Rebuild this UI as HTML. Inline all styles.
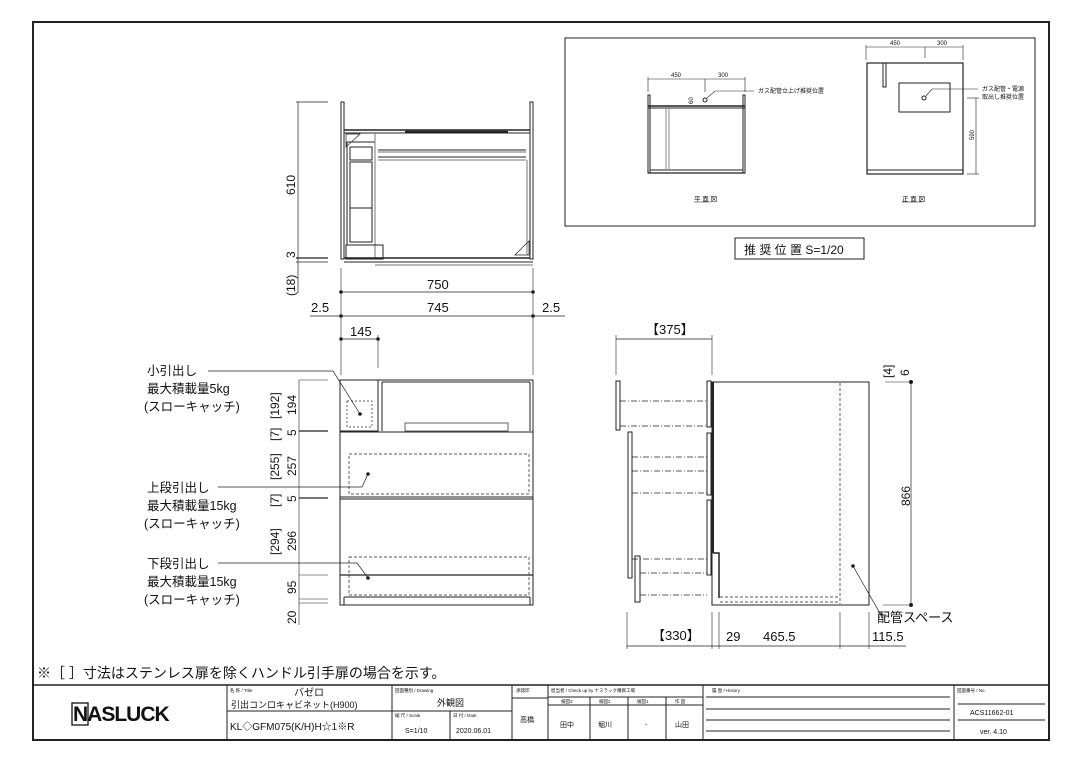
<!DOCTYPE html>
<html><head><meta charset="utf-8"><style>
html,body{margin:0;padding:0;background:#fff}
svg{display:block}
text{font-family:"Liberation Sans","Noto Sans CJK JP",sans-serif;fill:#111}
</style></head><body>
<svg width="1080" height="764" viewBox="0 0 1080 764" xmlns="http://www.w3.org/2000/svg">
<g fill="none" stroke="#222" stroke-width="1">
<!-- frame -->
<rect x="33" y="22" width="1016" height="718" stroke-width="2"/>
<!-- title block -->
<line x1="33" y1="685" x2="1049" y2="685" stroke-width="1.5"/>
<line x1="227" y1="685" x2="227" y2="740"/>
<line x1="392" y1="685" x2="392" y2="740"/>
<line x1="512" y1="685" x2="512" y2="740"/>
<line x1="548" y1="685" x2="548" y2="740"/>
<line x1="703" y1="685" x2="703" y2="740"/>
<line x1="954" y1="685" x2="954" y2="740"/>
<line x1="227" y1="711" x2="392" y2="711"/>
<line x1="392" y1="711" x2="512" y2="711"/>
<line x1="450" y1="711" x2="450" y2="740"/>
<line x1="512" y1="698" x2="548" y2="698"/>
<line x1="548" y1="697" x2="703" y2="697"/>
<line x1="548" y1="705" x2="703" y2="705"/>
<line x1="590" y1="697" x2="590" y2="740"/>
<line x1="628" y1="697" x2="628" y2="740"/>
<line x1="666" y1="697" x2="666" y2="740"/>
<line x1="706" y1="697" x2="950" y2="697"/>
<line x1="706" y1="709" x2="950" y2="709"/>
<line x1="706" y1="720" x2="950" y2="720"/>
<line x1="706" y1="731" x2="950" y2="731"/>
<line x1="958" y1="704" x2="1045" y2="704"/>
<line x1="958" y1="720" x2="1045" y2="720"/>

<!-- inset box -->
<rect x="565" y="38" width="470" height="188"/>
<rect x="735" y="238" width="129" height="21"/>
<!-- plan view -->
<rect x="648" y="95" width="2" height="78"/>
<rect x="743" y="95" width="2" height="78"/>
<line x1="648" y1="106" x2="745" y2="106" stroke-width="1.5"/>
<line x1="648" y1="108" x2="745" y2="108"/>
<line x1="650" y1="170" x2="743" y2="170"/>
<line x1="648" y1="173" x2="745" y2="173" stroke-width="1.2"/>
<line x1="666" y1="108" x2="666" y2="170" stroke="#888"/>
<line x1="669" y1="108" x2="669" y2="170" stroke="#888"/>
<line x1="648" y1="79" x2="745" y2="79" stroke-width="0.6"/>
<line x1="648" y1="77" x2="648" y2="92" stroke-width="0.6"/>
<line x1="745" y1="77" x2="745" y2="92" stroke-width="0.6"/>
<line x1="705" y1="79" x2="705" y2="92" stroke-width="0.6"/>
<circle cx="705" cy="100" r="2"/>
<polyline points="707,98 715,91 754,91" stroke-width="0.6"/>
<line x1="694" y1="202" x2="711" y2="202" stroke-width="0.6"/>
<!-- front view inset -->
<rect x="867" y="63" width="96" height="111" stroke-width="1.2"/>
<line x1="867" y1="170" x2="963" y2="170"/>
<rect x="883" y="63" width="3" height="24"/>
<rect x="899" y="83" width="51" height="29"/>
<circle cx="924" cy="98" r="2"/>
<polyline points="926,96 932,89 978,89" stroke-width="0.6"/>
<line x1="866" y1="47" x2="963" y2="47" stroke-width="0.6"/>
<line x1="866" y1="45" x2="866" y2="60" stroke-width="0.6"/>
<line x1="963" y1="45" x2="963" y2="60" stroke-width="0.6"/>
<line x1="925" y1="47" x2="925" y2="58" stroke-width="0.6"/>
<line x1="967" y1="98" x2="979" y2="98" stroke-width="0.6"/>
<line x1="967" y1="174" x2="979" y2="174" stroke-width="0.6"/>
<line x1="976" y1="98" x2="976" y2="174" stroke-width="0.6"/>
<line x1="902" y1="202" x2="922" y2="202" stroke-width="0.6"/>

<!-- top view -->
<line x1="298" y1="102" x2="298" y2="293" stroke-width="0.7"/>
<line x1="296" y1="102" x2="328" y2="102" stroke-width="0.7"/>
<line x1="296" y1="258" x2="328" y2="258" stroke-width="1.2"/>
<line x1="296" y1="262" x2="328" y2="262" stroke-width="0.7"/>
<rect x="341" y="102" width="3" height="157"/>
<rect x="530" y="102" width="3" height="157"/>
<line x1="344" y1="130" x2="530" y2="130" stroke-width="1.5"/>
<line x1="344" y1="133" x2="530" y2="133"/>
<line x1="405" y1="132" x2="508" y2="132" stroke-width="2.5"/>
<rect x="347" y="142" width="28" height="103"/>
<rect x="350" y="147" width="22" height="13"/>
<rect x="350" y="162" width="22" height="80"/>
<line x1="350" y1="208" x2="372" y2="208"/>
<line x1="375" y1="133" x2="375" y2="258" stroke="#777"/>
<line x1="378" y1="150" x2="526" y2="150"/>
<line x1="378" y1="152" x2="526" y2="152" stroke="#777"/>
<line x1="378" y1="157" x2="526" y2="157"/>
<line x1="378" y1="160" x2="526" y2="160" stroke="#777"/>
<line x1="527" y1="160" x2="527" y2="255" stroke="#777"/>
<polygon points="346,134 360,134 346,147" stroke-width="0.7"/>
<polygon points="515,255 529,255 529,241" stroke-width="0.7"/>
<line x1="344" y1="258" x2="530" y2="258" stroke-width="1.5"/>
<rect x="346" y="245" width="37" height="14"/>
<line x1="344" y1="262" x2="533" y2="262"/>
<line x1="375" y1="265" x2="533" y2="265" stroke="#777"/>

<!-- dims top -->
<line x1="341" y1="268" x2="341" y2="375" stroke-width="0.6"/>
<line x1="533" y1="268" x2="533" y2="375" stroke-width="0.6"/>
<line x1="341" y1="292" x2="533" y2="292" stroke-width="0.7"/>
<line x1="310" y1="316" x2="565" y2="316" stroke-width="0.7"/>
<line x1="341" y1="339" x2="378" y2="339" stroke-width="0.7"/>
<line x1="378" y1="335" x2="378" y2="368" stroke-width="0.6"/>
<circle cx="341" cy="292" r="1.3" fill="#111"/><circle cx="533" cy="292" r="1.3" fill="#111"/>
<circle cx="341" cy="316" r="1.3" fill="#111"/><circle cx="533" cy="316" r="1.3" fill="#111"/>
<circle cx="341" cy="339" r="1.3" fill="#111"/><circle cx="378" cy="339" r="1.3" fill="#111"/>

<!-- front view -->
<rect x="340" y="380" width="193" height="225"/>
<rect x="340" y="380" width="38" height="51"/>
<line x1="382" y1="382" x2="382" y2="431"/>
<line x1="530" y1="382" x2="530" y2="431"/>
<line x1="382" y1="382" x2="530" y2="382"/>
<rect x="405" y="423" width="103" height="8" stroke-width="0.7"/>
<rect x="347" y="401" width="25" height="26" stroke-dasharray="2,2" stroke-width="0.7"/>
<rect x="340" y="432" width="193" height="65"/>
<rect x="349" y="454" width="180" height="40" stroke-dasharray="3,2" stroke-width="0.7"/>
<rect x="340" y="499" width="193" height="76"/>
<rect x="349" y="557" width="180" height="38" stroke-dasharray="3,2" stroke-width="0.7"/>
<line x1="340" y1="575" x2="533" y2="575" stroke-width="1.3"/>
<line x1="344" y1="597" x2="530" y2="597"/>
<line x1="344" y1="597" x2="344" y2="605"/>
<line x1="530" y1="597" x2="530" y2="605"/>
<!-- front dims -->
<line x1="299" y1="380" x2="299" y2="625" stroke-width="0.6"/>
<line x1="299" y1="380" x2="328" y2="380" stroke-width="0.6"/>
<line x1="299" y1="431" x2="328" y2="431" stroke-width="1.3"/>
<line x1="299" y1="498" x2="328" y2="498" stroke-width="1.3"/>
<line x1="299" y1="575" x2="328" y2="575" stroke-width="0.6"/>
<line x1="299" y1="599" x2="328" y2="599" stroke-width="0.6"/>
<line x1="299" y1="603" x2="328" y2="603" stroke-width="0.6"/>
<!-- leaders -->
<polyline points="208,371 333,371 360,414" stroke-width="0.7"/>
<polyline points="218,487 362,487 368,474" stroke-width="0.7"/>
<polyline points="218,563 357,563 368,578" stroke-width="0.7"/>
<circle cx="360" cy="414" r="1.3" fill="#111"/>
<circle cx="368" cy="474" r="1.3" fill="#111"/>
<circle cx="368" cy="578" r="1.3" fill="#111"/>

<!-- side view -->
<line x1="616" y1="339" x2="712" y2="339" stroke-width="0.7"/>
<line x1="616" y1="335" x2="616" y2="375" stroke-width="0.6"/>
<line x1="712" y1="335" x2="712" y2="375" stroke-width="0.6"/>
<rect x="712" y="382" width="157" height="223"/>
<line x1="713" y1="382" x2="713" y2="553" stroke-width="2"/>
<rect x="707" y="381" width="4" height="46"/>
<rect x="707" y="433" width="4" height="62"/>
<rect x="707" y="500" width="4" height="75"/>
<polyline points="713,553 719,553 719,598" stroke-width="1.5"/>
<rect x="616" y="381" width="4" height="49"/>
<line x1="620" y1="401" x2="707" y2="401" stroke-dasharray="6,2,1,2" stroke-width="0.7"/>
<line x1="620" y1="426" x2="707" y2="426" stroke-dasharray="6,2,1,2" stroke-width="0.7"/>
<rect x="628" y="432" width="4" height="146"/>
<line x1="632" y1="457" x2="707" y2="457" stroke-dasharray="6,2,1,2" stroke-width="0.7"/>
<line x1="632" y1="471" x2="707" y2="471" stroke-dasharray="6,2,1,2" stroke-width="0.7"/>
<line x1="632" y1="493" x2="707" y2="493" stroke-dasharray="6,2,1,2" stroke-width="0.7"/>
<line x1="632" y1="559" x2="707" y2="559" stroke-dasharray="6,2,1,2" stroke-width="0.7"/>
<line x1="640" y1="573" x2="707" y2="573" stroke-dasharray="6,2,1,2" stroke-width="0.7"/>
<line x1="640" y1="595" x2="707" y2="595" stroke-dasharray="6,2,1,2" stroke-width="0.7"/>
<rect x="635" y="556" width="5" height="46"/>
<line x1="840" y1="383" x2="840" y2="604" stroke-dasharray="3,2" stroke-width="0.7"/>
<line x1="720" y1="597" x2="840" y2="597" stroke-dasharray="3,2" stroke-width="0.7"/>
<line x1="720" y1="602" x2="840" y2="602" stroke-dasharray="3,2" stroke-width="0.7"/>
<line x1="911" y1="382" x2="911" y2="605" stroke-width="0.7"/>
<line x1="885" y1="382" x2="913" y2="382" stroke-width="0.6"/>
<line x1="883" y1="605" x2="913" y2="605" stroke-width="0.6"/>
<circle cx="911" cy="382" r="1.5" fill="#111"/><circle cx="911" cy="605" r="1.5" fill="#111"/>
<polyline points="853,566 881,615 886,615" stroke-width="0.7"/>
<circle cx="853" cy="566" r="1.3" fill="#111"/>
<line x1="627" y1="646" x2="906" y2="646" stroke-width="0.7"/>
<line x1="627" y1="612" x2="627" y2="649" stroke-width="0.6"/>
<line x1="712" y1="612" x2="712" y2="649" stroke-width="0.6"/>
<line x1="719" y1="612" x2="719" y2="649" stroke-width="0.6"/>
<line x1="840" y1="612" x2="840" y2="649" stroke-width="0.6"/>
<line x1="869" y1="612" x2="869" y2="649" stroke-width="0.6"/>
<line x1="616" y1="339" x2="616" y2="339"/>
</g>

<!-- texts -->
<g font-size="13">
<text x="311" y="312" font-size="13">2.5</text>
<text x="427" y="289">750</text>
<text x="427" y="312">745</text>
<text x="542" y="312">2.5</text>
<text x="350" y="336">145</text>
<text x="646" y="334">【375】</text>
<text x="652" y="640">【330】</text>
<text x="726" y="641">29</text>
<text x="763" y="641">465.5</text>
<text x="872" y="641">115.5</text>
<text x="877" y="622">配管スペース</text>
</g>
<g font-size="12.5">
<text x="147" y="375">小引出し</text>
<text x="147" y="393">最大積載量5kg</text>
<text x="144" y="411">(スローキャッチ)</text>
<text x="147" y="492">上段引出し</text>
<text x="147" y="510">最大積載量15kg</text>
<text x="144" y="528">(スローキャッチ)</text>
<text x="147" y="568">下段引出し</text>
<text x="147" y="586">最大積載量15kg</text>
<text x="144" y="604">(スローキャッチ)</text>
</g>
<g font-size="12">
<text transform="translate(295,195) rotate(-90)">610</text>
<text transform="translate(295,258) rotate(-90)">3</text>
<text transform="translate(295,296) rotate(-90)">(18)</text>
<text transform="translate(296,415) rotate(-90)">194</text>
<text transform="translate(279,419) rotate(-90)">[192]</text>
<text transform="translate(296,436) rotate(-90)">5</text>
<text transform="translate(279,441) rotate(-90)">[7]</text>
<text transform="translate(296,476) rotate(-90)">257</text>
<text transform="translate(279,480) rotate(-90)">[255]</text>
<text transform="translate(296,502) rotate(-90)">5</text>
<text transform="translate(279,507) rotate(-90)">[7]</text>
<text transform="translate(296,551) rotate(-90)">296</text>
<text transform="translate(279,555) rotate(-90)">[294]</text>
<text transform="translate(296,594) rotate(-90)">95</text>
<text transform="translate(296,624) rotate(-90)">20</text>
<text transform="translate(910,506) rotate(-90)">866</text>
<text transform="translate(892,378) rotate(-90)">[4]</text>
<text transform="translate(909,376) rotate(-90)">6</text>
</g>
<g font-size="6">
<text x="671" y="77">450</text><text x="718" y="77">300</text>
<text x="890" y="45">450</text><text x="937" y="45">300</text>
<text x="758" y="93">ガス配管立上げ推奨位置</text>
<text x="982" y="91">ガス配管・電源</text>
<text x="982" y="99">取出し推奨位置</text>
<text transform="translate(974,140) rotate(-90)">590</text>
<text transform="translate(693,104) rotate(-90)">60</text>
<text x="694" y="201" font-size="6.5">平 面 図</text>
<text x="902" y="201" font-size="6.5">正 面 図</text>
</g>
<text x="744" y="254" font-size="12">推 奨 位 置 S=1/20</text>
<text x="37" y="678" font-size="14">※［ ］寸法はステンレス扉を除くハンドル引手扉の場合を示す。</text>

<!-- title block text -->
<text x="73" y="721" font-size="21" font-weight="bold" style="letter-spacing:-1px">NASLUCK</text>
<rect x="72" y="703" width="16" height="22" fill="none" stroke="#111" stroke-width="1.3"/>
<g font-size="4.5">
<text x="230" y="692">名 称 / Title</text>
<text x="395" y="692">図面種別 / Drawing</text>
<text x="395" y="717">縮 尺 / Scale</text>
<text x="453" y="717">日 付 / Date</text>
<text x="516" y="692">承認印</text>
<text x="551" y="692">担当者 / Check up by ナスラック購買工場</text>
<text x="561" y="703">検図3</text><text x="599" y="703">検図2</text><text x="637" y="703">検図1</text><text x="675" y="703">作 図</text>
<text x="712" y="692">履 歴 / History</text>
<text x="957" y="692">図面番号 / No.</text>
</g>
<text x="294" y="696" font-size="10">バゼロ</text>
<text x="231" y="708" font-size="9">引出コンロキャビネット(H900)</text>
<text x="230" y="730" font-size="10">KL◇GFM075(K/H)H☆1※R</text>
<text x="437" y="706" font-size="9">外観図</text>
<text x="405" y="733" font-size="7">S=1/10</text>
<text x="456" y="733" font-size="7">2020.06.01</text>
<text x="520" y="722" font-size="7">高橋</text>
<text x="560" y="727" font-size="7">田中</text>
<text x="598" y="727" font-size="7">堀川</text>
<text x="645" y="727" font-size="7">-</text>
<text x="675" y="727" font-size="7">山田</text>
<text x="970" y="715" font-size="7">ACS11662-01</text>
<text x="980" y="734" font-size="7">ver. 4.10</text>
</svg>
</body></html>
